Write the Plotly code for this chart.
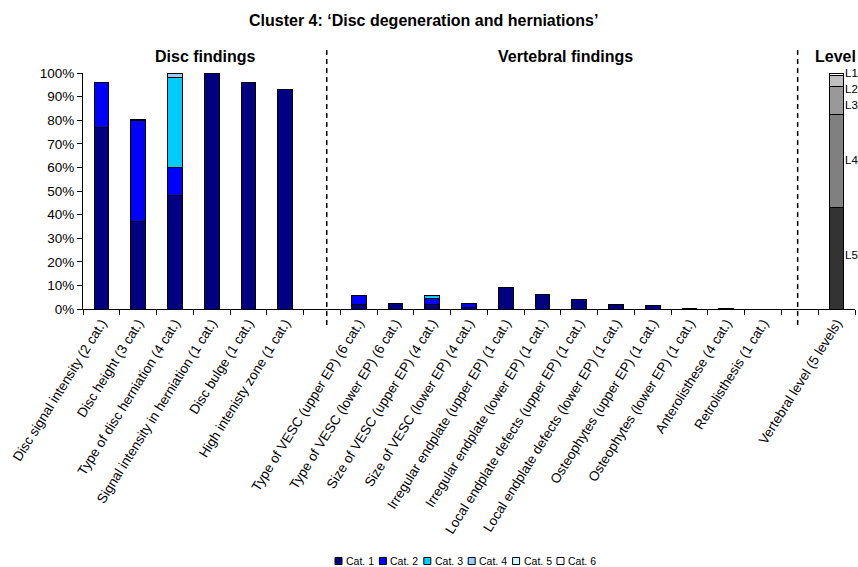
import plotly.graph_objects as go

# ---------------- data ----------------
categories = [
    "Disc signal intensity (2 cat.)",
    "Disc height (3 cat.)",
    "Type of disc herniation (4 cat.)",
    "Signal intensity in herniation (1 cat.)",
    "Disc bulge (1 cat.)",
    "High intenisty zone (1 cat.)",
    "gap1",
    "Type of VESC (upper EP) (6 cat.)",
    "Type of VESC (lower EP) (6 cat.)",
    "Size of VESC (upper EP) (4 cat.)",
    "Size of VESC (lower EP) (4 cat.)",
    "Irregular endplate (upper EP) (1 cat.)",
    "Irregular endplate (lower EP) (1 cat.)",
    "Local endplate defects (upper EP) (1 cat.)",
    "Local endplate defects (lower EP) (1 cat.)",
    "Osteophytes (upper EP) (1 cat.)",
    "Osteophytes (lower EP) (1 cat.)",
    "Anterolisthese (4 cat.)",
    "Retrolisthesis (1 cat.)",
    "gap2",
    "Vertebral level (5 levels)",
]
tick_labels = [c if not c.startswith("gap") else "" for c in categories]

N = None
cat1 = [77, 37, 48, 100, 96, 93, N, 2.1, 2.2, 1.8, 0.7, 9.2, 6.2, 3.9, 1.8, 1.4, 0.4, 0.4, 0, N, N]
cat2 = [19, 43, 12, 0, 0, 0, N, 3.7, 0, 2.5, 1.5, 0, 0, 0, 0, 0, 0, 0, 0, N, N]
cat3 = [0, 0.5, 38, 0, 0, 0, N, 0, 0, 1.5, 0, 0, 0, 0, 0, 0, 0, 0, 0, N, N]
cat4 = [0, 0, 2, 0, 0, 0, N, 0, 0, 0, 0, 0, 0, 0, 0, 0, 0, 0, 0, N, N]
cat5 = [0, 0, 0, 0, 0, 0, N, 0, 0, 0, 0, 0, 0, 0, 0, 0, 0, 0, 0, N, N]
cat6 = [0, 0, 0, 0, 0, 0, N, 0, 0, 0, 0, 0, 0, 0, 0, 0, 0, 0, 0, N, N]
series_names = ["Cat. 1", "Cat. 2", "Cat. 3", "Cat. 4", "Cat. 5", "Cat. 6"]
series_values = [cat1, cat2, cat3, cat4, cat5, cat6]

level_names = ["L5", "L4", "L3", "L2", "L1"]
level_values = [43, 39.3, 12, 4.7, 1.0]

y_tick_values = list(range(0, 101, 10))
y_tick_labels = [f"{v}%" for v in y_tick_values]

section_titles = ["Disc findings", "Vertebral findings", "Level"]
title_text = "Cluster 4: \u2018Disc degeneration and herniations\u2019"

# ---------------- styles ----------------
series_colors = ["#000080", "#0000FF", "#00CCFF", "#99CCFF", "#CCFFFF", "#FFFFFF"]
level_colors = ["#333333", "#808080", "#999999", "#C0C0C0", "#FFFFFF"]
FONT = "Liberation Sans, Arial, sans-serif"

W, H = 858, 567
ML, MR, MT = 83, 3, 73
MB = H - 309
PW, PH = W - ML - MR, H - MT - MB


def px_x(p):  # page pixel -> paper x
    return (p - ML) / PW


def px_y(p):  # page pixel -> paper y
    return (H - MB - p) / PH


fig = go.Figure()
for name, vals, col in zip(series_names, series_values, series_colors):
    fig.add_trace(go.Bar(
        x=categories, y=vals, name=name, width=0.4,
        marker=dict(color=col, line=dict(color="black", width=1)),
        showlegend=False,
    ))

lvl_cat = categories[-1]
for name, v, col in zip(level_names, level_values, level_colors):
    fig.add_trace(go.Bar(
        x=[lvl_cat], y=[v], name=name, width=0.4,
        marker=dict(color=col, line=dict(color="black", width=1)),
        showlegend=False,
    ))

annotations = []
shapes = []

# title
annotations.append(dict(text="<b>" + title_text + "</b>", xref="paper", yref="paper",
                        x=px_x(423), y=px_y(21), showarrow=False,
                        font=dict(family=FONT, size=16, color="black"),
                        xanchor="center", yanchor="middle"))
# section headers
for txt, cx, anchor in zip(section_titles, [205, 565, 813], ["center", "center", "left"]):
    annotations.append(dict(text="<b>" + txt + "</b>", xref="paper", yref="paper",
                            x=px_x(cx), y=px_y(57), showarrow=False,
                            font=dict(family=FONT, size=16, color="black"),
                            xanchor=anchor, yanchor="middle"))

# level labels (positions chosen to avoid overlap, as in reference)
level_label_y = [23, 63, 86.5, 93.3, 99.8]
for name, ly in zip(level_names, level_label_y):
    annotations.append(dict(text=name, x=lvl_cat, y=ly, xref="x", yref="y",
                            showarrow=False, xanchor="left", yanchor="middle",
                            xshift=7, borderpad=0,
                            font=dict(family=FONT, size=11.5, color="black")))

# dashed separators
for xd in [6.13, 18.94]:
    shapes.append(dict(type="line", xref="x", yref="paper", x0=xd, x1=xd,
                       y0=px_y(325), y1=px_y(47),
                       line=dict(color="black", width=1.5, dash="5px,4px")))

# legend (manual, compact like the reference)
leg_x0, leg_step, leg_y = 335, 44.4, 561
for i, (name, col) in enumerate(zip(series_names, series_colors)):
    sx = leg_x0 + i * leg_step
    shapes.append(dict(type="rect", xref="paper", yref="paper",
                       x0=px_x(sx), x1=px_x(sx + 7), y0=px_y(leg_y + 3.5),
                       y1=px_y(leg_y - 3.5), fillcolor=col,
                       line=dict(color="black", width=1)))
    annotations.append(dict(text=name, xref="paper", yref="paper",
                            x=px_x(sx + 9), y=px_y(leg_y), showarrow=False,
                            xanchor="left", yanchor="middle",
                            font=dict(family=FONT, size=10.5, color="black")))

fig.update_layout(
    width=W, height=H, barmode="stack",
    margin=dict(l=ML, r=MR, t=MT, b=MB, autoexpand=False),
    plot_bgcolor="white", paper_bgcolor="white",
    font=dict(family=FONT, color="black"),
    annotations=annotations, shapes=shapes, showlegend=False,
)
fig.update_xaxes(
    type="category", categoryorder="array", categoryarray=categories,
    tickmode="array", tickvals=categories, ticktext=tick_labels,
    tickson="boundaries", ticks="outside", ticklen=5, tickcolor="black",
    showline=True, linecolor="black", linewidth=1, showgrid=False,
    tickangle=-58, tickfont=dict(family=FONT, size=13.5, color="black"),
    range=[-0.5, len(categories) - 0.5],
)
fig.update_yaxes(
    range=[0, 100], tickmode="array", tickvals=y_tick_values, ticktext=y_tick_labels,
    ticks="outside", ticklen=5, tickcolor="black",
    showline=True, linecolor="black", linewidth=1, showgrid=False, zeroline=False,
    tickfont=dict(family=FONT, size=13.5, color="black"),
)

fig.write_html(
    "out.html",
    config={"displayModeBar": False},
    post_script="document.body.style.margin='0';document.body.style.overflow='hidden';",
)
